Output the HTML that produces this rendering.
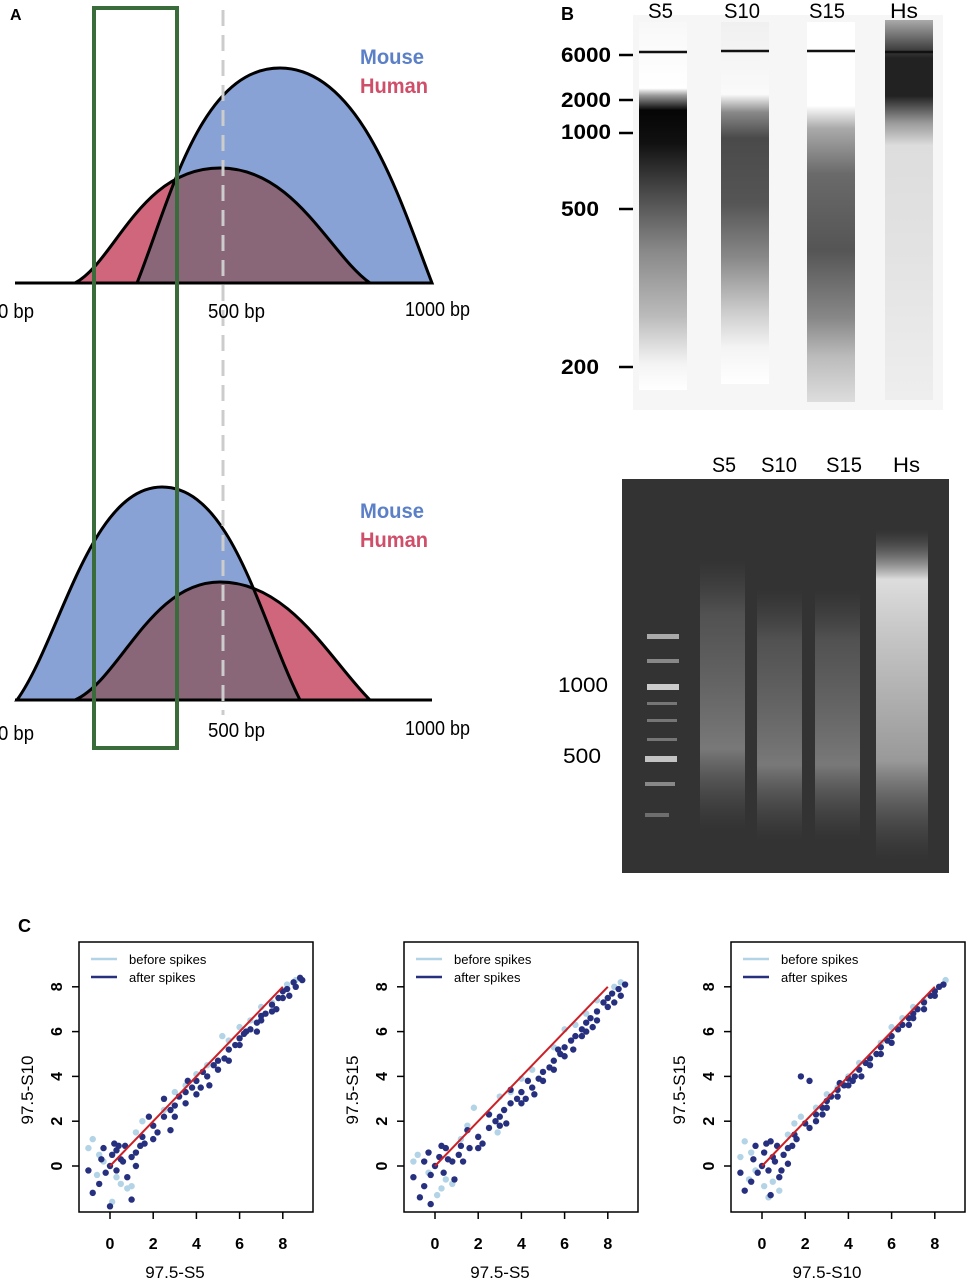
<!DOCTYPE html>
<html><head><meta charset="utf-8">
<style>
body{margin:0;background:#fff;width:966px;height:1280px;overflow:hidden;position:relative;font-family:"Liberation Sans",sans-serif}
svg{position:absolute;left:0;top:0}
</style></head><body>
<svg width="966" height="1280">
<defs>
<path id="mT" d="M137,283 C170,200 200,68 280,68 C360,68 400,200 432,283 Z"/>
<path id="hT" d="M75,283 C115,262 140,168 220,168 C295,168 330,255 370,283 Z"/>
<path id="mB" d="M17,700 C60,640 90,487 162,487 C232,487 260,620 300,700 Z"/>
<path id="hB" d="M75,700 C120,680 150,582 220,582 C290,582 330,660 370,700 Z"/>
<clipPath id="cmT"><use href="#mT"/></clipPath>
<clipPath id="cmB"><use href="#mB"/></clipPath>
<linearGradient id="gS5" x1="0" y1="0" x2="0" y2="1">
<stop offset="0" stop-color="#f8f8f8"/><stop offset=".18" stop-color="#fff"/><stop offset=".2" stop-color="#999"/><stop offset=".24" stop-color="#050505"/><stop offset=".33" stop-color="#111"/><stop offset=".45" stop-color="#444"/><stop offset=".62" stop-color="#888"/><stop offset=".8" stop-color="#bbb"/><stop offset=".93" stop-color="#f4f4f4"/><stop offset="1" stop-color="#fff"/></linearGradient>
<linearGradient id="gS10" x1="0" y1="0" x2="0" y2="1">
<stop offset="0" stop-color="#f0f0f0"/><stop offset=".2" stop-color="#fafafa"/><stop offset=".25" stop-color="#888"/><stop offset=".32" stop-color="#4a4a4a"/><stop offset=".5" stop-color="#555"/><stop offset=".65" stop-color="#888"/><stop offset=".8" stop-color="#ccc"/><stop offset=".9" stop-color="#f4f4f4"/><stop offset="1" stop-color="#fff"/></linearGradient>
<linearGradient id="gS15" x1="0" y1="0" x2="0" y2="1">
<stop offset="0" stop-color="#fff"/><stop offset=".22" stop-color="#fff"/><stop offset=".28" stop-color="#aaa"/><stop offset=".4" stop-color="#6a6a6a"/><stop offset=".6" stop-color="#555"/><stop offset=".78" stop-color="#888"/><stop offset=".88" stop-color="#bbb"/><stop offset="1" stop-color="#ddd"/></linearGradient>
<linearGradient id="gHs" x1="0" y1="0" x2="0" y2="1">
<stop offset="0" stop-color="#aaa"/><stop offset=".1" stop-color="#222"/><stop offset=".2" stop-color="#222"/><stop offset=".27" stop-color="#999"/><stop offset=".33" stop-color="#ddd"/><stop offset=".6" stop-color="#e2e2e2"/><stop offset="1" stop-color="#eee"/></linearGradient>
<linearGradient id="gSm" x1="0" y1="0" x2="0" y2="1">
<stop offset="0" stop-color="#555" stop-opacity="0"/><stop offset=".2" stop-color="#666" stop-opacity=".6"/><stop offset=".7" stop-color="#8a8a8a" stop-opacity=".8"/><stop offset="1" stop-color="#555" stop-opacity="0"/></linearGradient>
<linearGradient id="gHg" x1="0" y1="0" x2="0" y2="1">
<stop offset="0" stop-color="#666" stop-opacity="0"/><stop offset=".15" stop-color="#ddd"/><stop offset=".3" stop-color="#c8c8c8"/><stop offset=".7" stop-color="#999"/><stop offset="1" stop-color="#555" stop-opacity="0"/></linearGradient>
</defs>

<text x="10" y="20" font-size="16" font-weight="bold">A</text>
<g>
<use href="#mT" fill="#88a2d5"/>
<use href="#hT" fill="#cf667b"/>
<use href="#hT" fill="#8a6679" clip-path="url(#cmT)"/>
<use href="#mT" fill="none" stroke="#000" stroke-width="3"/>
<use href="#hT" fill="none" stroke="#000" stroke-width="3"/>
<line x1="15" y1="283" x2="432" y2="283" stroke="#000" stroke-width="3"/>
</g>
<g>
<use href="#mB" fill="#88a2d5"/>
<use href="#hB" fill="#cf667b"/>
<use href="#hB" fill="#8a6679" clip-path="url(#cmB)"/>
<use href="#mB" fill="none" stroke="#000" stroke-width="3"/>
<use href="#hB" fill="none" stroke="#000" stroke-width="3"/>
<line x1="15" y1="700" x2="432" y2="700" stroke="#000" stroke-width="3"/>
</g>
<line x1="223" y1="10" x2="223" y2="715" stroke="#ccc" stroke-width="3" stroke-dasharray="16,9"/>
<rect x="94" y="8" width="83" height="740" fill="none" stroke="#3a6b3a" stroke-width="4"/>
<g font-size="21" font-weight="bold" lengthAdjust="spacingAndGlyphs">
<text x="360" y="64" fill="#5b80c8" textLength="64" lengthAdjust="spacingAndGlyphs">Mouse</text>
<text x="360" y="93" fill="#cf4f6a" textLength="68" lengthAdjust="spacingAndGlyphs">Human</text>
<text x="360" y="518" fill="#5b80c8" textLength="64" lengthAdjust="spacingAndGlyphs">Mouse</text>
<text x="360" y="547" fill="#cf4f6a" textLength="68" lengthAdjust="spacingAndGlyphs">Human</text>
</g>
<g font-size="20">
<text x="-2" y="318" textLength="36" lengthAdjust="spacingAndGlyphs">0 bp</text>
<text x="208" y="318" textLength="57" lengthAdjust="spacingAndGlyphs">500 bp</text>
<text x="405" y="316" textLength="65" lengthAdjust="spacingAndGlyphs">1000 bp</text>
<text x="-2" y="740" textLength="36" lengthAdjust="spacingAndGlyphs">0 bp</text>
<text x="208" y="737" textLength="57" lengthAdjust="spacingAndGlyphs">500 bp</text>
<text x="405" y="735" textLength="65" lengthAdjust="spacingAndGlyphs">1000 bp</text>
</g>

<text x="561" y="20" font-size="18" font-weight="bold">B</text>
<rect x="633" y="15" width="310" height="395" fill="#f6f6f6"/>
<rect x="639" y="22" width="48" height="368" fill="url(#gS5)"/>
<rect x="721" y="22" width="48" height="362" fill="url(#gS10)"/>
<rect x="807" y="22" width="48" height="380" fill="url(#gS15)"/>
<rect x="885" y="20" width="48" height="380" fill="url(#gHs)"/>
<g stroke="#111" stroke-width="2.5">
<line x1="639" y1="52" x2="687" y2="52"/><line x1="721" y1="51" x2="769" y2="51"/><line x1="807" y1="51" x2="855" y2="51"/><line x1="885" y1="52" x2="933" y2="52"/>
</g>
<g font-size="21">
<text x="648" y="18" textLength="25" lengthAdjust="spacingAndGlyphs">S5</text>
<text x="724" y="18" textLength="36" lengthAdjust="spacingAndGlyphs">S10</text>
<text x="809" y="18" textLength="36" lengthAdjust="spacingAndGlyphs">S15</text>
<text x="890" y="18" textLength="28" lengthAdjust="spacingAndGlyphs">Hs</text>
</g>
<g font-size="21" font-weight="bold">
<text x="561" y="62" textLength="50" lengthAdjust="spacingAndGlyphs">6000</text><text x="561" y="107" textLength="50" lengthAdjust="spacingAndGlyphs">2000</text><text x="561" y="139" textLength="50" lengthAdjust="spacingAndGlyphs">1000</text><text x="561" y="216" textLength="38" lengthAdjust="spacingAndGlyphs">500</text><text x="561" y="374" textLength="38" lengthAdjust="spacingAndGlyphs">200</text>
<g stroke="#000" stroke-width="2.5"><line x1="619" y1="55" x2="633" y2="55"/><line x1="619" y1="100" x2="633" y2="100"/><line x1="619" y1="133" x2="633" y2="133"/><line x1="619" y1="209" x2="633" y2="209"/><line x1="619" y1="367" x2="633" y2="367"/></g>
</g>
<g font-size="21">
<text x="712" y="472" textLength="24" lengthAdjust="spacingAndGlyphs">S5</text>
<text x="761" y="472" textLength="36" lengthAdjust="spacingAndGlyphs">S10</text>
<text x="826" y="472" textLength="36" lengthAdjust="spacingAndGlyphs">S15</text>
<text x="893" y="472" textLength="27" lengthAdjust="spacingAndGlyphs">Hs</text>
<text x="558" y="692" textLength="50" lengthAdjust="spacingAndGlyphs">1000</text>
<text x="563" y="763" textLength="38" lengthAdjust="spacingAndGlyphs">500</text>
</g>
<g>
<rect x="622" y="479" width="327" height="394" fill="#333"/>
<rect x="700" y="560" width="45" height="270" fill="url(#gSm)"/>
<rect x="757" y="590" width="45" height="250" fill="url(#gSm)"/>
<rect x="815" y="590" width="45" height="250" fill="url(#gSm)"/>
<rect x="876" y="530" width="52" height="330" fill="url(#gHg)"/>
<g fill="#ddd">
<rect x="647" y="634" width="32" height="5" opacity=".7"/><rect x="647" y="659" width="32" height="4" opacity=".5"/><rect x="647" y="684" width="32" height="6" opacity=".9"/><rect x="647" y="702" width="30" height="3" opacity=".4"/><rect x="647" y="719" width="30" height="3" opacity=".4"/><rect x="647" y="738" width="30" height="3" opacity=".4"/><rect x="645" y="756" width="32" height="6" opacity=".85"/><rect x="645" y="782" width="30" height="4" opacity=".5"/><rect x="645" y="813" width="24" height="4" opacity=".35"/>
</g>
</g>

<text x="18" y="932" font-size="18" font-weight="bold">C</text>
<g id="scatters"></g>
</svg>
<script>
const xTicks=[0,2,4,6,8];
const yTicks=[0,2,4,6,8];
const xTitles=["97.5-S5","97.5-S5","97.5-S10"];
const yTitles=["97.5-S10","97.5-S15","97.5-S15"];
const before1=[[-0.8,1.2],[-0.5,0.5],[-0.3,0.2],[0.5,-0.8],[0.8,-1],[0.3,-0.5],[-1,0.8],[0.1,-1.6],[-0.6,-0.4],[1.5,2],[2.5,2.5],[3.5,3.6],[4.5,4.5],[5.5,5.6],[6.5,6.5],[7.5,7.3],[8.6,8.3],[3,3.3],[5.2,5.8],[1.2,1.5],[6,6.2],[4,4.1],[7,7.1],[8.2,8.1],[1,-0.9]];
const after1=[[0,0],[0.1,0.5],[-0.2,-0.3],[0.3,-0.2],[0.5,0.3],[-0.5,-0.8],[-0.8,-1.2],[0.2,1.0],[0.6,0.2],[1.0,0.4],[0.8,-0.5],[-0.3,0.8],[1.2,0],[-1,-0.2],[0,-1.8],[1,-1.5],[0.4,0.9],[1.4,0.9],[1.6,1.0],[1.5,1.3],[2,1.8],[2.2,1.5],[2.5,2.2],[2.8,2.5],[3,2.7],[3.2,3.1],[3.5,3.3],[3.8,3.5],[4,3.8],[4.2,3.5],[4.5,4.0],[4.8,4.5],[5,4.7],[5.3,4.8],[5.5,5.2],[5.8,5.4],[6,5.7],[6.3,6.0],[6.5,6.1],[6.8,6.4],[7,6.7],[7.2,6.8],[7.5,7.2],[7.8,7.5],[8,7.8],[8.2,7.9],[8.5,8.2],[8.8,8.4],[2.5,3.0],[3,2.2],[4,3.2],[5,4.3],[6,5.4],[7,6.5],[8,7.5],[3.5,2.8],[2,1.2],[1.8,2.2],[4.3,4.2],[5.5,4.7],[6.8,6.0],[7.5,6.9],[8.3,7.6],[1.2,0.6],[2.8,1.6],[3.6,3.8],[4.6,3.6],[8.6,8.0],[8.9,8.3],[7.7,7.0],[6.2,5.9],[0.3,0.7],[0.7,0.9],[-0.4,0.3]];
const before2=[[-0.8,0.5],[-0.5,0.2],[-0.3,-0.3],[0.5,-0.6],[0.8,-0.8],[0.3,-1],[-1,0.2],[0.1,-1.3],[1.5,1.8],[2.5,2.3],[3.5,3.3],[4.5,4.3],[5.5,5.3],[6.5,6.3],[7.5,7.4],[8.6,8.2],[3,3.1],[1.8,2.6],[1.2,1.2],[6,6.1],[4,3.9],[7,6.8],[8.3,8.0],[2.9,1.5]];
const after2=[[0,0],[0.2,0.4],[-0.2,-0.4],[0.4,-0.3],[0.6,0.3],[-0.5,-0.9],[-0.7,-1.4],[0.3,0.9],[0.8,0.2],[1.1,0.5],[0.9,-0.6],[-0.3,0.6],[1.3,0.2],[-1,-0.5],[-0.2,-1.7],[1.6,0.8],[2,1.3],[2.2,1.0],[2.5,1.7],[2.8,2.0],[3,2.2],[3.2,2.5],[3.5,2.8],[3.8,3.0],[4,3.3],[4.2,3.0],[4.5,3.5],[4.8,3.9],[5,4.2],[5.3,4.4],[5.5,4.7],[5.8,5.0],[6,5.3],[6.3,5.6],[6.5,5.8],[6.8,6.1],[7,6.4],[7.2,6.6],[7.5,6.9],[7.8,7.3],[8,7.5],[8.2,7.7],[8.5,7.9],[8.8,8.1],[2.5,2.3],[3,1.8],[4,2.8],[5,3.8],[6,4.9],[7,6.0],[8,7.1],[3.5,3.4],[2,0.8],[1.5,1.6],[4.3,3.8],[5.5,4.3],[6.8,5.8],[7.5,6.5],[8.3,7.3],[1.2,0.9],[3.3,1.9],[4.6,3.2],[5.7,5.2],[8.6,7.6],[7.3,6.2],[6.4,5.2],[0.5,0.8],[-0.5,0.2]];
const before3=[[-0.8,1.1],[-0.5,0.6],[-0.3,-0.2],[0.5,-0.7],[0.8,-1.1],[0.3,-1.4],[-1,0.4],[0.1,-0.9],[-0.6,-0.6],[1.5,1.9],[2.5,2.6],[3.5,3.5],[4.5,4.6],[5.5,5.5],[6.5,6.6],[7.5,7.4],[8.5,8.3],[3,3.2],[1.2,1.4],[6,6.2],[4,4.0],[7,7.1],[1.8,2.2]];
const after3=[[0,0],[0.1,0.6],[-0.2,-0.3],[0.3,-0.2],[0.5,0.4],[-0.5,-0.7],[-0.8,-1.1],[0.2,1.0],[0.6,0.2],[1.0,0.5],[0.8,-0.5],[-0.3,0.9],[1.2,0.1],[-1,-0.3],[0.4,-1.3],[0.4,1.1],[1.4,0.9],[1.6,1.2],[1.5,1.4],[2,1.9],[2.2,1.7],[2.5,2.3],[2.8,2.6],[3,2.9],[3.2,3.1],[3.5,3.4],[3.8,3.6],[4,3.9],[4.2,3.8],[4.5,4.3],[4.8,4.6],[5,4.8],[5.3,5.0],[5.5,5.3],[5.8,5.6],[6,5.8],[6.3,6.1],[6.5,6.3],[6.8,6.6],[7,6.8],[7.2,7.0],[7.5,7.3],[7.8,7.6],[8,7.8],[8.2,8.0],[8.4,8.1],[2.5,2.0],[3,2.6],[4,3.6],[5,4.5],[6,5.5],[7,6.6],[8,7.6],[3.5,3.1],[1.8,4.0],[2.2,3.8],[4.3,4.0],[5.5,5.0],[6.8,6.3],[7.5,7.0],[1.2,0.8],[2.8,2.3],[3.6,3.7],[4.6,4.0],[0.7,0.9],[-0.4,0.3],[0.9,-0.2]];
const beforeSets=[before1,before2,before3];
const afterSets=[after1,after2,after3];
const NS="http://www.w3.org/2000/svg";
const root=document.getElementById('scatters');
function mk(tag,attrs,parent){const e=document.createElementNS(NS,tag);for(const k in attrs)e.setAttribute(k,attrs[k]);parent.appendChild(e);return e;}
const offs=[0,325,652];
for(let p=0;p<3;p++){
  const ox=offs[p];
  const X=v=>ox+110+v*21.6;
  const Y=v=>1166-v*22.4;
  const g=mk('g',{},root);
  
  
  const box=mk('rect',{x:ox+79,y:942,width:234,height:270,fill:'#fff',stroke:'#000','stroke-width':1.5},g);
  
  
  xTicks.forEach(t=>{
    const l=mk('line',{x1:X(t),x2:X(t),y1:1212,y2:1219,stroke:'#000','stroke-width':1.5},g);
    
    
    const tx=mk('text',{x:X(t),y:1249,'text-anchor':'middle','font-size':16,'font-weight':'bold'},g);
    tx.textContent=t;
    
    
  });
  yTicks.forEach(t=>{
    const l=mk('line',{x1:ox+72,x2:ox+79,y1:Y(t),y2:Y(t),stroke:'#000','stroke-width':1.5},g);
    
    
    const tx=mk('text',{x:ox+62,y:Y(t),'text-anchor':'middle','font-size':16,'font-weight':'bold',transform:`rotate(-90 ${ox+62} ${Y(t)})`},g);
    tx.textContent=t;
    
    
  });
  const xt=mk('text',{x:ox+175,y:1278,'text-anchor':'middle','font-size':17},g);
  xt.textContent=xTitles[p];
  
  
  const yt=mk('text',{x:ox+33,y:1090,'text-anchor':'middle','font-size':17,transform:`rotate(-90 ${ox+33} 1090)`},g);
  yt.textContent=yTitles[p];
  
  
  beforeSets[p].forEach(d=>{
    const c=mk('circle',{cx:X(d[0]),cy:Y(d[1]),r:3.2,fill:'#b3d3e6'},g);
    
    
  });
  afterSets[p].forEach(d=>{
    const c=mk('circle',{cx:X(d[0]),cy:Y(d[1]),r:3.2,fill:'#27307f'},g);
    
    
  });
  const rl=mk('line',{x1:X(0),y1:Y(0),x2:X(8),y2:Y(8),stroke:'#cc2026','stroke-width':2},g);
  
  
  const l1=mk('line',{x1:ox+91,x2:ox+117,y1:959,y2:959,stroke:'#b3d3e6','stroke-width':2.5},g);
  
  
  const l2=mk('line',{x1:ox+91,x2:ox+117,y1:977,y2:977,stroke:'#27307f','stroke-width':2.5},g);
  
  
  const t1=mk('text',{x:ox+129,y:964,'font-size':13},g);
  t1.textContent='before spikes';
  
  
  const t2=mk('text',{x:ox+129,y:982,'font-size':13},g);
  t2.textContent='after spikes';
  
  
}
</script>
</body></html>
